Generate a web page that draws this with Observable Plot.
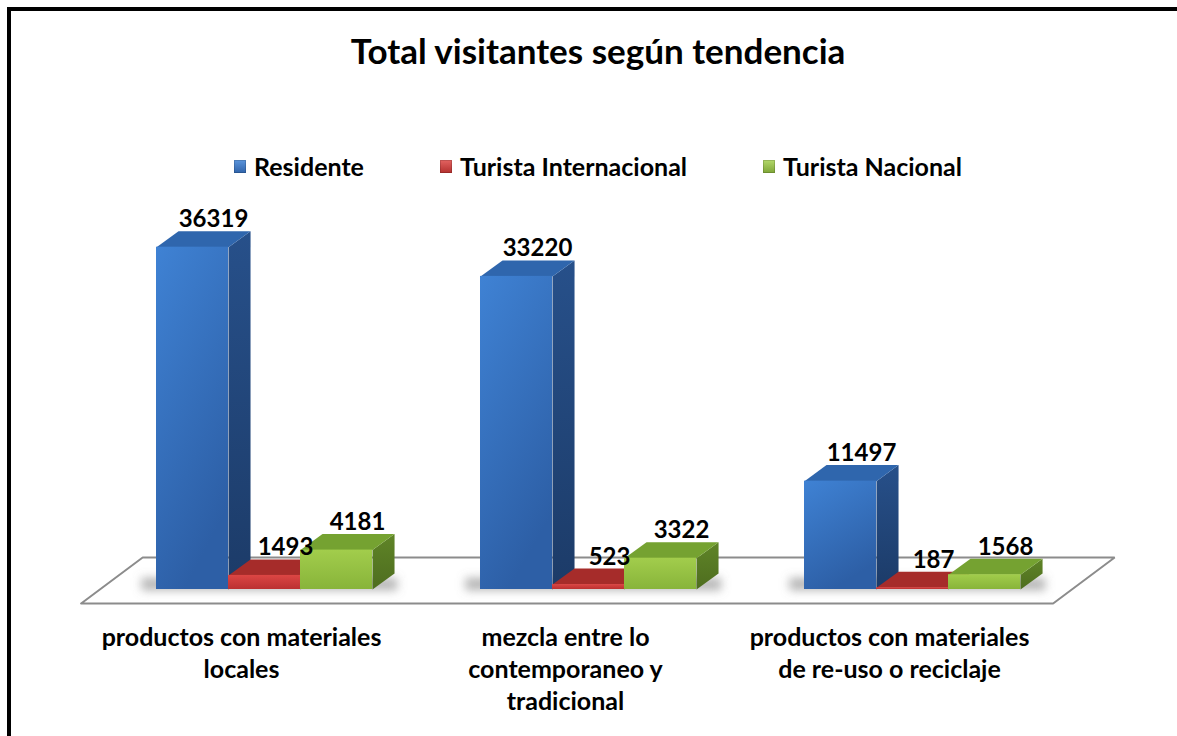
<!DOCTYPE html>
<html>
<head>
<meta charset="utf-8">
<script src="https://cdn.jsdelivr.net/npm/d3@7"></script>
<script src="https://cdn.jsdelivr.net/npm/@observablehq/plot@0.6"></script>
<style>
html,body{margin:0;padding:0;background:#fff;}
#wrap{position:relative;width:1177px;height:736px;overflow:hidden;font-family:Lato,"Open Sans",sans-serif;font-weight:700;color:#000;}
#frame{position:absolute;left:7px;top:7px;width:1300px;height:900px;border-left:4px solid #000;border-top:4px solid #000;box-sizing:border-box;}
#title{position:absolute;left:11px;width:1174px;top:29px;text-align:center;font-size:35px;line-height:normal;white-space:nowrap;}
#legend{position:absolute;left:11px;width:1174px;top:151px;display:flex;justify-content:center;gap:76px;font-size:25px;line-height:normal;}
.item{display:flex;align-items:center;gap:8px;white-space:nowrap;}
.sw{width:12px;height:13px;display:inline-block;box-shadow:inset 0 0 0 1px rgba(0,0,0,0.15);}
#chart{position:absolute;left:0;top:190px;}
</style>
</head>
<body>
<div id="wrap">
  <div id="frame"></div>
  <div id="title"></div>
  <div id="legend"></div>
  <div id="chart"></div>
</div>
<script>
// ---- data ----
const title = "Total visitantes según tendencia";
const categories = ["productos con materiales locales", "mezcla entre lo contemporaneo y tradicional", "productos con materiales de re-uso o reciclaje"];
const categoryLabels = ["productos con materiales\nlocales", "mezcla entre lo\ncontemporaneo y\ntradicional", "productos con materiales\nde re-uso o reciclaje"];
const series = ["Residente", "Turista Internacional", "Turista Nacional"];
const residente = [36319, 33220, 11497];
const turistaInternacional = [1493, 523, 187];
const turistaNacional = [4181, 3322, 1568];
const seriesValues = [residente, turistaInternacional, turistaNacional];

// ---- style ----
const palette = [
  {front: "url(#fBlue)", top: "#2f66ad", side: "url(#sBlue)", swatch: "linear-gradient(180deg,#5b95dc,#2f63aa)"},
  {front: "url(#fRed)", top: "#a62c2a", side: "url(#sRed)", swatch: "linear-gradient(180deg,#e36361,#b3302e)"},
  {front: "url(#fGreen)", top: "#75a231", side: "url(#sGreen)", swatch: "linear-gradient(180deg,#b3d86a,#7ea537)"}
];
const W = 72 / 324;      // bar width in group units
const DX = 0.068;        // depth offset (x units)
const DY = 1700;         // depth offset (y units)

document.getElementById("title").textContent = title;
const legend = document.getElementById("legend");
series.forEach((s, i) => {
  const it = document.createElement("div");
  it.className = "item";
  const sw = document.createElement("span");
  sw.className = "sw";
  sw.style.background = palette[i].swatch;
  it.appendChild(sw);
  const t = document.createElement("span");
  t.textContent = s;
  it.appendChild(t);
  legend.appendChild(it);
});

const rows = [];
series.forEach((s, si) => categories.forEach((c, gi) => {
  const v = seriesValues[si][gi];
  const x1 = gi + (si - 1) * W - W / 2;
  rows.push({series: s, si, category: c, gi, value: v, x1, x2: x1 + W, xc: x1 + W / 2});
}));

function poly(r, part) {
  const {x1, x2, value: v} = r;
  const id = r.series + "|" + r.category;
  const pts = part === "top"
    ? [[x1, v], [x2, v], [x2 + DX, v + DY], [x1 + DX, v + DY]]
    : [[x2, 0], [x2 + DX, DY], [x2 + DX, v + DY], [x2, v]];
  return pts.map(([x, y]) => ({id, x, y}));
}

// floor (slab under the bars)
const floorFront = -1485, floorBack = 3395, floorShift = 0.19;
const floorPts = [
  {x: -0.566, y: floorFront}, {x: 2.434, y: floorFront},
  {x: 2.434 + floorShift, y: floorBack}, {x: -0.566 + floorShift, y: floorBack}, {x: -0.566, y: floorFront}
];

const marks = [
  Plot.line(floorPts, {x: "x", y: "y", fill: "#fff", stroke: "#8c8c8c", strokeWidth: 2, strokeLinejoin: "miter", curve: "linear"}),
  // soft shadow on the floor behind each group
  Plot.rect(categories, {x1: (d, i) => i - 1.5 * W - 0.045, x2: (d, i) => i + 1.5 * W + DX + 0.01, y1: -150, y2: DY * 0.7, fill: "#7a7a7a", fillOpacity: 0.55})
];
series.forEach((s, si) => {
  const rs = rows.filter(r => r.si === si);
  marks.push(Plot.line(rs.flatMap(r => poly(r, "side")), {x: "x", y: "y", z: "id", fill: palette[si].side, stroke: "none"}));
  marks.push(Plot.line(rs.flatMap(r => poly(r, "top")), {x: "x", y: "y", z: "id", fill: palette[si].top, stroke: "none"}));
  marks.push(Plot.rect(rs, {x1: "x1", x2: "x2", y1: 0, y2: "value", fill: palette[si].front}));
});
marks.push(Plot.text(rows, {x: "xc", y: "value", text: d => String(d.value), dx: 21, dy: -20, lineAnchor: "bottom", fontSize: 24, fontWeight: 700, fill: "#000"}));
marks.push(Plot.text(categoryLabels, {x: (d, i) => i, y: floorFront, text: d => d, dx: -23, dy: 20, lineAnchor: "top", lineHeight: 1.28, fontSize: 25, fontWeight: 700, fill: "#000"}));

const chart = Plot.plot({
  width: 1177,
  height: 546,
  marginTop: 22,
  marginBottom: 147,
  marginLeft: 102,
  marginRight: 103,
  x: {domain: [-0.5, 2.5], axis: null},
  y: {domain: [0, 40000], axis: null},
  style: {fontFamily: "Lato, 'Open Sans', sans-serif", background: "transparent", overflow: "visible"},
  marks
});
chart.insertAdjacentHTML("afterbegin", `<defs>
<filter id="blur" x="-20%" y="-150%" width="140%" height="400%"><feGaussianBlur stdDeviation="5"/></filter>
<linearGradient id="fBlue" x1="0" y1="0" x2="0.4" y2="1"><stop offset="0" stop-color="#3f82d4"/><stop offset="1" stop-color="#2d5fa6"/></linearGradient>
<linearGradient id="sBlue" x1="0" y1="0" x2="0" y2="1"><stop offset="0" stop-color="#27508a"/><stop offset="1" stop-color="#1c3b68"/></linearGradient>
<linearGradient id="fRed" x1="0" y1="0" x2="0" y2="1"><stop offset="0" stop-color="#dc4644"/><stop offset="1" stop-color="#bb3131"/></linearGradient>
<linearGradient id="sRed" x1="0" y1="0" x2="0" y2="1"><stop offset="0" stop-color="#85221f"/><stop offset="1" stop-color="#6e1b19"/></linearGradient>
<linearGradient id="fGreen" x1="0" y1="0" x2="0" y2="1"><stop offset="0" stop-color="#a2cd4c"/><stop offset="1" stop-color="#88b43a"/></linearGradient>
<linearGradient id="sGreen" x1="0" y1="0" x2="0" y2="1"><stop offset="0" stop-color="#5f8427"/><stop offset="1" stop-color="#4e6d1f"/></linearGradient>
</defs>`);
const shadowG = chart.querySelector('g[fill="#7a7a7a"]');
if (shadowG) shadowG.setAttribute("filter", "url(#blur)");
document.getElementById("chart").appendChild(chart);
</script>
</body>
</html>
